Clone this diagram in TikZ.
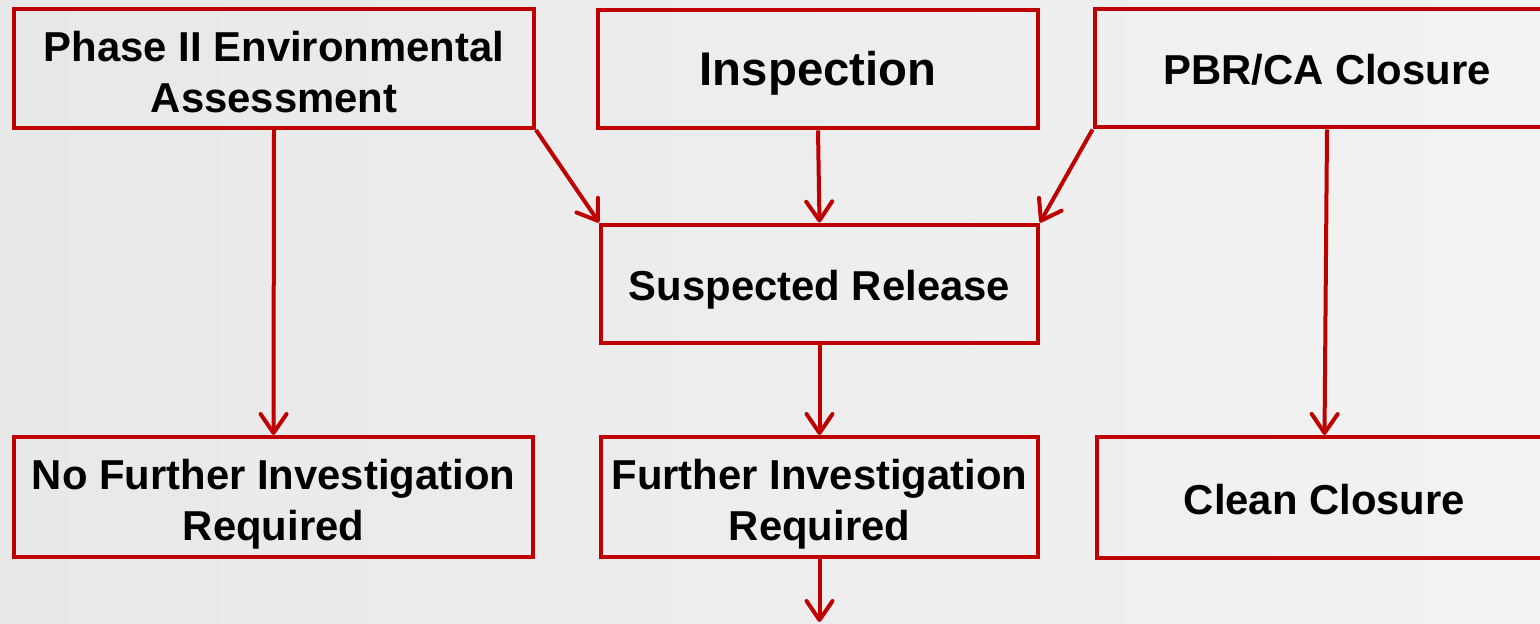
\documentclass[tikz,border=0pt]{standalone}
\usepackage{fontspec}
\setmainfont{Liberation Sans}
\usetikzlibrary{arrows.meta}
\definecolor{myred}{HTML}{C00000}

\begin{document}
\begin{tikzpicture}[
        x=0.02cm,
        y=-0.02cm,
        box/.style={
            draw=myred,
            line width=0.08cm,
            rectangle,
            align=center,
            inner sep=0pt,
            minimum width=#1,
            minimum height=2.38cm,
            text height=24.4pt,
            text depth=5.1pt,
            font=\bfseries\fontsize{23.8}{29}\selectfont,
        },
        twoline/.style={
            text height=55pt,
            minimum height=2.4cm,
        },
        big/.style={
            font=\bfseries\fontsize{26.9}{32}\selectfont,
        },
    ]

    \useasboundingbox (0, 0) rectangle (1540, 624);
    \clip (0, 0) rectangle (1540, 624);
    \shade[left color=black!9, right color=black!5] (0, 0) rectangle (1540, 624);

    \node[box=10.4cm, twoline, minimum height=2.38cm] (phase) at (274, 68.5) {Phase II Environmental\\Assessment};
    \node[box=8.8cm, big] (insp) at (818, 69) {Inspection};
    \node[box=9.3cm] (pbr) at (1327, 68) {PBR/CA Closure};

    \node[box=8.74cm] (susp) at (819.5, 284) {Suspected Release};

    \node[box=10.38cm, twoline] (nofurther) at (273.5, 497) {No Further Investigation\\Required};
    \node[box=8.74cm, twoline] (further) at (819.5, 497) {Further Investigation\\Required};
    \node[box=9.1cm, minimum height=2.42cm] (clean) at (1324.5, 497.5) {Clean Closure};

    \coordinate (next) at (819.5, 622);

    \begin{scope}[draw=myred, line width=0.08cm, -{Straight Barb[length=3.8mm, width=5.2mm, round]}]
        \draw (phase.south) -- (nofurther.north);
        \draw (phase.south east) -- (susp.north west);
        \draw (insp.south) -- (susp.north);
        \draw (pbr.south west) -- (susp.north east);
        \draw (pbr.south) -- (clean.north);
        \draw (susp.south) -- (further.north);
        \draw (further.south) -- (next);
    \end{scope}
\end{tikzpicture}
\end{document}
